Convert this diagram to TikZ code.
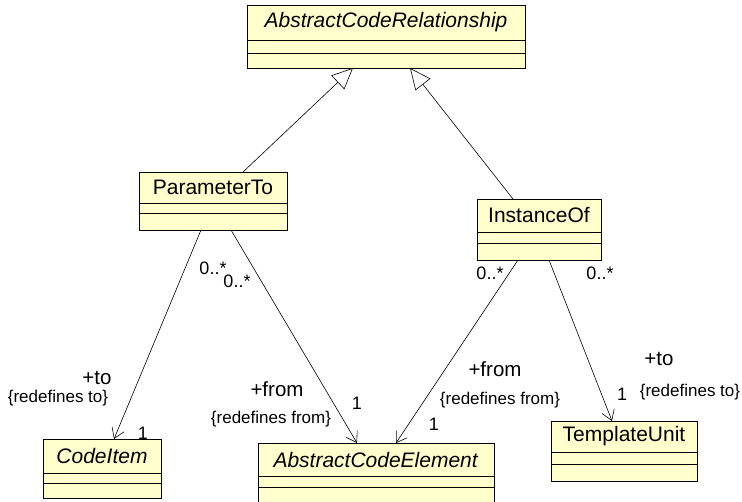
\documentclass[tikz,border=0pt]{standalone}
\usepackage{fontspec}
\setmainfont{Liberation Sans}
\usepackage{tikz}
\usetikzlibrary{arrows.meta, positioning}
\definecolor{clsfill}{RGB}{255,255,206}
\definecolor{mydark}{RGB}{0,0,0}
\tikzset{
  clsname/.style={rectangle, draw=mydark, fill=clsfill, anchor=north west,
    inner sep=0pt, outer sep=0pt, line width=0.9pt,
    font=\fontsize{21}{25}\selectfont},
  clspart/.style={rectangle, draw=mydark, fill=clsfill,
    inner sep=0pt, outer sep=0pt, line width=0.9pt},
  assoc/.style={-{Straight Barb[length=10pt, width=13pt]}, line width=0.6pt, color=mydark},
  inherit/.style={-{Triangle[length=21pt, width=19pt, fill=white]}, line width=0.6pt, color=mydark},
  mult/.style={font=\fontsize{18}{20}\selectfont, inner sep=0pt},
  role/.style={font=\fontsize{20.5}{24}\selectfont, inner sep=0pt},
  constr/.style={font=\fontsize{17}{20}\selectfont, inner sep=0pt}
}
\begin{document}
\begin{tikzpicture}[x=1pt, y=-1pt]
  \useasboundingbox[fill=white] (0,0) rectangle (742,501);
  % classes
  \node[clsname, minimum width=278pt, minimum height=35pt] (acr) at (247,5) {\textit{AbstractCodeRelationship}};
  \node[clspart, minimum width=278pt, minimum height=13pt, below=0pt of acr] (acr1) {};
  \node[clspart, minimum width=278pt, minimum height=15pt, below=0pt of acr1] (acr2) {};

  \node[clsname, minimum width=148pt, minimum height=31pt] (pto) at (139,172) {ParameterTo};
  \node[clspart, minimum width=148pt, minimum height=10pt, below=0pt of pto] (pto1) {};
  \node[clspart, minimum width=148pt, minimum height=17pt, below=0pt of pto1] (pto2) {};

  \node[clsname, minimum width=124pt, minimum height=33pt] (iof) at (477,199) {InstanceOf};
  \node[clspart, minimum width=124pt, minimum height=11pt, below=0pt of iof] (iof1) {};
  \node[clspart, minimum width=124pt, minimum height=17pt, below=0pt of iof1] (iof2) {};

  \node[clsname, minimum width=118pt, minimum height=34pt] (ci) at (43,439) {\textit{CodeItem}};
  \node[clspart, minimum width=118pt, minimum height=10pt, below=0pt of ci] (ci1) {};
  \node[clspart, minimum width=118pt, minimum height=15pt, below=0pt of ci1] (ci2) {};

  \node[clsname, minimum width=236pt, minimum height=33pt] (ace) at (258,443) {\textit{AbstractCodeElement}};
  \node[clspart, minimum width=236pt, minimum height=11pt, below=0pt of ace] (ace1) {};
  \node[clspart, minimum width=236pt, minimum height=17pt, below=0pt of ace1] (ace2) {};

  \node[clsname, minimum width=146pt, minimum height=31pt] (tu) at (551,421) {TemplateUnit};
  \node[clspart, minimum width=146pt, minimum height=12pt, below=0pt of tu] (tu1) {};
  \node[clspart, minimum width=146pt, minimum height=17pt, below=0pt of tu1] (tu2) {};

  % generalisations
  \draw[inherit] ([xshift=30pt]pto.north) -- ([xshift=-33pt]acr2.south);
  \draw[inherit] ([xshift=-26pt]iof.north) -- ([xshift=24pt]acr2.south);

  % associations
  \draw[assoc] ([xshift=-12pt]pto2.south) -- ([xshift=12pt]ci.north);
  \draw[assoc] ([xshift=18pt]pto2.south) -- ([xshift=-19pt]ace.north);
  \draw[assoc] ([xshift=-21pt]iof2.south) -- ([xshift=20pt]ace.north);
  \draw[assoc] ([xshift=10pt]iof2.south) -- ([xshift=-12pt]tu.north);

  % ends of ParameterTo
  \node[mult] (ptoM1) at (213,268) {0..*};
  \node[mult] (ptoM2) at (237,281) {0..*};
  \node[role] (ptoTo) at (97,378) {+to};
  \node[constr] (ptoToC) at (58,398) {\{redefines to\}};
  \node[mult] (ciOne) at (143,433) {1};
  \node[role] (ptoFrom) at (277,389) {+from};
  \node[constr] (ptoFromC) at (271,419) {\{redefines from\}};
  \node[mult] (aceOneA) at (357,403) {1};

  % ends of InstanceOf
  \node[mult] (iofM1) at (490,273) {0..*};
  \node[mult] (iofM2) at (600,273) {0..*};
  \node[role] (iofFrom) at (495,369) {+from};
  \node[constr] (iofFromC) at (500,400) {\{redefines from\}};
  \node[mult] (aceOneB) at (434,424) {1};
  \node[mult] (tuOne) at (622,394) {1};
  \node[role] (iofTo) at (659,359) {+to};
  \node[constr] (iofToC) at (690,392) {\{redefines to\}};
\end{tikzpicture}
\end{document}
